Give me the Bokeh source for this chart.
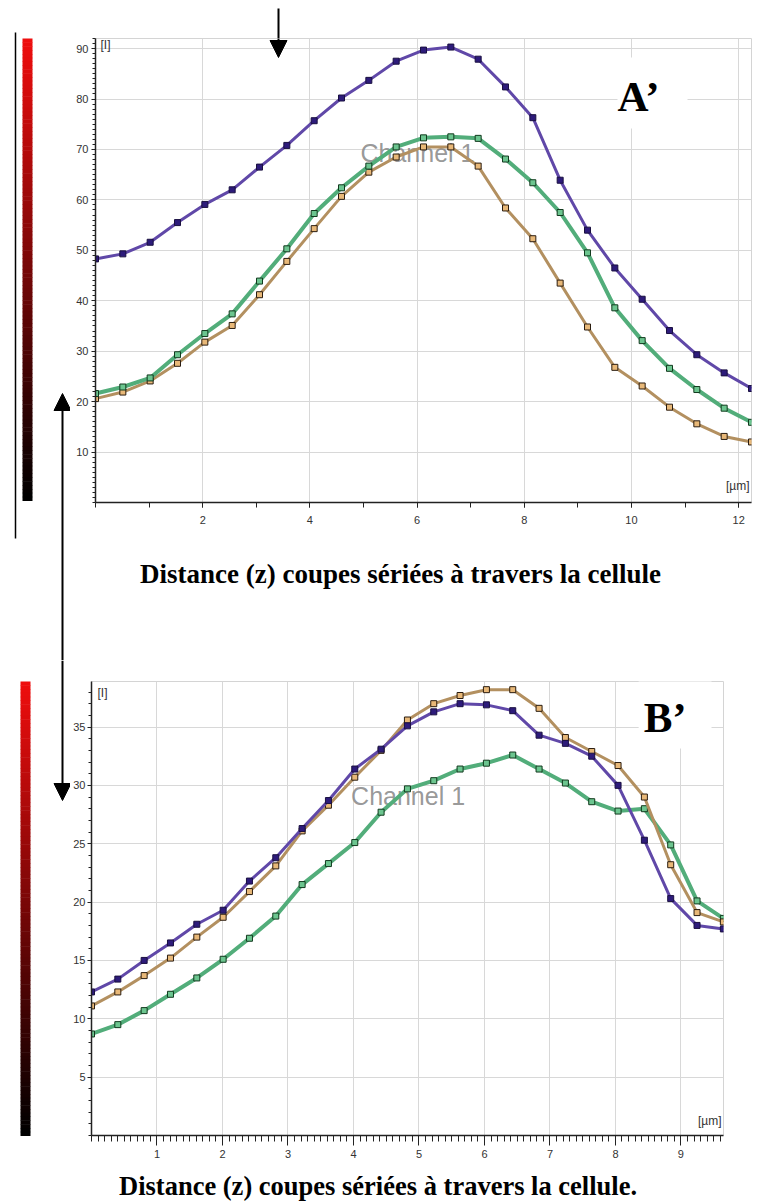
from bokeh.plotting import figure
from bokeh.layouts import column, row
from bokeh.models import Range1d, FixedTicker, Label, Arrow, NormalHead, BoxAnnotation
from bokeh.embed import file_html
from bokeh.resources import INLINE

# ---------------- data (A') ----------------
z_top = [0.00, 0.51, 1.02, 1.53, 2.04, 2.55, 3.06, 3.57, 4.08, 4.59, 5.10, 5.61, 6.12,
         6.63, 7.14, 7.65, 8.16, 8.67, 9.18, 9.69, 10.20, 10.71, 11.22, 11.73, 12.24]
top_purple = [48.3, 49.3, 51.6, 55.5, 59.1, 62.0, 66.5, 70.8, 75.7, 80.2, 83.7, 87.5, 89.7,
              90.3, 87.9, 82.4, 76.3, 63.9, 54.0, 46.5, 40.3, 34.1, 29.3, 25.7, 22.6]
top_green = [21.6, 22.9, 24.7, 29.3, 33.5, 37.4, 43.9, 50.3, 57.3, 62.4, 66.7, 70.5, 72.3,
             72.5, 72.2, 68.1, 63.4, 57.5, 49.5, 38.6, 32.1, 26.6, 22.4, 18.7, 15.9]
top_brown = [20.6, 21.9, 24.1, 27.6, 31.8, 35.1, 41.2, 47.8, 54.3, 60.7, 65.5, 68.5, 70.5,
             70.5, 66.7, 58.4, 52.3, 43.5, 34.8, 26.8, 23.1, 18.9, 15.6, 13.1, 12.0]
top_xticks = [2, 4, 6, 8, 10, 12]
top_yticks = [10, 20, 30, 40, 50, 60, 70, 80, 90]

# ---------------- data (B') ----------------
z_bot = [0.000, 0.402, 0.804, 1.206, 1.608, 2.010, 2.412, 2.814, 3.216, 3.618, 4.020, 4.422,
         4.824, 5.226, 5.628, 6.030, 6.432, 6.834, 7.236, 7.638, 8.040, 8.442, 8.844, 9.246, 9.648]
bot_purple = [12.3, 13.4, 15.0, 16.5, 18.1, 19.3, 21.8, 23.8, 26.3, 28.7, 31.4, 33.1, 35.1,
              36.3, 37.0, 36.9, 36.4, 34.3, 33.6, 32.5, 30.0, 25.3, 20.3, 18.0, 17.7]
bot_brown = [11.1, 12.3, 13.7, 15.2, 17.0, 18.7, 20.9, 23.1, 26.1, 28.3, 30.7, 33.0, 35.6,
             37.0, 37.7, 38.2, 38.2, 36.6, 34.1, 32.9, 31.7, 29.0, 23.2, 19.1, 18.3]
bot_green = [8.7, 9.5, 10.7, 12.1, 13.5, 15.1, 16.9, 18.8, 21.5, 23.3, 25.1, 27.7, 29.7,
             30.4, 31.4, 31.9, 32.6, 31.4, 30.2, 28.6, 27.8, 28.0, 24.9, 20.1, 18.6]
bot_xticks = [1, 2, 3, 4, 5, 6, 7, 8, 9]
bot_yticks = [5, 10, 15, 20, 25, 30, 35]

caption_top = "Distance (z) coupes sériées à travers la cellule"
caption_bot = "Distance (z) coupes sériées à travers la cellule."

PURPLE = dict(line="#6048a8", mfill="#2d1b7a", mline="#1a1040")
GREEN = dict(line="#52ad7a", mfill="#6cc58f", mline="#123a1e")
BROWN = dict(line="#b39060", mfill="#e8b878", mline="#2b1d10")

SANS = "Liberation Sans"
SERIF = "Liberation Serif"


def base_fig(W, H, L, R, T, B, xr, yr, axes=True):
    kw = {}
    if not axes:
        kw = dict(x_axis_location=None, y_axis_location=None)
    p = figure(width=W, height=H, x_range=Range1d(*xr), y_range=Range1d(*yr),
               output_backend="svg", toolbar_location=None,
               min_border_left=L, min_border_right=R, min_border_top=T, min_border_bottom=B, **kw)
    p.background_fill_color = "white"
    p.border_fill_color = "white"
    if not axes:
        p.outline_line_color = None
        p.grid.visible = False
    else:
        p.outline_line_color = "#d4d4d4"
    return p


def deco_fig(W, H, L, R, T, B, fx0, fx1, fy0, fy1):
    # frame maps directly to page pixel coordinates (y downwards)
    return base_fig(W, H, L, R, T, B, (fx0, fx1), (fy1, fy0), axes=False)


def chart_conv(fx0, fx1, fy0, fy1, xr, yr):
    def conv(px, py):
        x = xr[0] + (px - fx0) / (fx1 - fx0) * (xr[1] - xr[0])
        y = yr[1] - (py - fy0) / (fy1 - fy0) * (yr[1] - yr[0])
        return x, y
    return conv


def ident(px, py):
    return px, py


def style_axes(p, xt, xminor, yt, yminor, x_minor_out, x_major_out, x_standoff, y_standoff):
    p.xaxis.ticker = FixedTicker(ticks=xt, minor_ticks=xminor)
    p.yaxis.ticker = FixedTicker(ticks=yt, minor_ticks=yminor)
    for ax in (p.xaxis, p.yaxis):
        ax.axis_line_color = "#222222"
        ax.axis_line_width = 1.5
        ax.major_tick_line_color = "#222222"
        ax.minor_tick_line_color = "#222222"
        ax.major_label_text_font = SANS
        ax.major_label_text_font_size = "11px"
        ax.major_label_text_color = "#333333"
        ax.major_tick_in = 0
        ax.minor_tick_in = 0
    p.yaxis.major_tick_out = 4
    p.yaxis.minor_tick_out = 3
    p.yaxis.major_label_standoff = y_standoff
    p.xaxis.major_tick_out = x_major_out
    p.xaxis.minor_tick_out = x_minor_out
    p.xaxis.major_label_standoff = x_standoff
    p.xgrid.ticker = FixedTicker(ticks=xt)
    p.ygrid.ticker = FixedTicker(ticks=yt)
    p.grid.grid_line_color = "#d8d8d8"
    p.grid.grid_line_width = 1


def draw_series(p, x, y, c, lw=3):
    p.line(x, y, line_color=c["line"], line_width=lw)
    p.scatter(x, y, marker="square", size=6, fill_color=c["mfill"], line_color=c["mline"], line_width=1)


def colorbar(p, x0, x1, y0, y1, n=120):
    h = (y1 - y0) / n
    lefts, rights, tops, bots, cols = [], [], [], [], []
    for i in range(n):
        t = i / (n - 1)
        r = int(238 * (1 - t))
        g = int(14 * (1 - t))
        cols.append("#%02x%02x%02x" % (r, g, g))
        lefts.append(x0)
        rights.append(x1)
        tops.append(y0 + i * h)
        bots.append(y0 + (i + 1) * h + 0.5)
    p.quad(left=lefts, right=rights, top=tops, bottom=bots, fill_color=cols, line_color=None)


def arrow(p, conv, x, ya, yb, head=True, lw=2):
    xs, ys = conv(x, ya)
    xe, ye = conv(x, yb)
    p.add_layout(Arrow(x_start=xs, y_start=ys, x_end=xe, y_end=ye, line_width=lw, line_color="black",
                       end=NormalHead(size=17, fill_color="black", line_color="black") if head else None,
                       level="overlay"))


def label(p, conv, px, py, text, font, size, color="black", style="normal", align="left",
          baseline="alphabetic", level="overlay", alpha=1.0):
    # empirical correction: rendered text sits ~0.32em below the requested position
    x, y = conv(px, py - 0.32 * size)
    p.add_layout(Label(x=x, y=y, text=text, text_font=font, text_font_size="%gpx" % size,
                       text_color=color, text_font_style=style, text_align=align,
                       text_baseline=baseline, level=level, text_alpha=alpha))


def white_box(p, conv, x0, x1, y0, y1):
    a, top = conv(x0, y0)
    b, bot = conv(x1, y1)
    p.add_layout(BoxAnnotation(left=a, right=b, top=top, bottom=bot, fill_color="white",
                               fill_alpha=1, line_color=None, level="overlay"))


# ================= upper block (page y 0..660) =================
strip_top = deco_fig(70, 660, 0, 0, 0, 0, 0, 70, 0, 660)
colorbar(strip_top, 22, 32, 38, 500)
arrow(strip_top, ident, 15, 32, 538, head=False, lw=1.5)
arrow(strip_top, ident, 62, 660, 393)

fig_arrow = deco_fig(688, 38, 25, 7, 0, 0, 95, 751, 0, 38)
arrow(fig_arrow, ident, 278, 8, 38, head=False)

XR1, YR1 = (0, 12.24), (0, 92)
fig_top = base_fig(688, 502, 25, 7, 0, 38, XR1, YR1)
c1 = chart_conv(95, 751, 38, 502, XR1, YR1)
style_axes(fig_top, top_xticks, list(range(0, 13)), top_yticks, list(range(0, 93)), 5, 5, 8, 3)
label(fig_top, c1, 360, 160, "Channel 1", SANS, 25, color="#8c8c8c", level="underlay", alpha=0.9)
draw_series(fig_top, z_top, top_brown, BROWN)
draw_series(fig_top, z_top, top_green, GREEN, lw=4)
draw_series(fig_top, z_top, top_purple, PURPLE)
label(fig_top, c1, 100, 41, "[I]", SANS, 12, color="#333333", baseline="top")
label(fig_top, c1, 749, 489, "[µm]", SANS, 12, color="#333333", align="right")
white_box(fig_top, c1, 617, 687, 57, 128)
label(fig_top, c1, 617, 110, "A’", SERIF, 43, style="bold")
arrow(fig_top, c1, 278, 37, 57)

fig_cap1 = deco_fig(688, 120, 25, 7, 0, 0, 95, 751, 540, 660)
label(fig_cap1, ident, 400, 582, caption_top, SERIF, 27, style="bold", align="center")

upper = row(strip_top, column(fig_arrow, fig_top, fig_cap1, spacing=0), spacing=0)

# ================= lower block (page y 660..1202) =================
strip_bot = deco_fig(70, 542, 0, 0, 0, 0, 0, 70, 660, 1202)
colorbar(strip_bot, 20, 30, 681, 1135)
arrow(strip_bot, ident, 62, 660, 800)

XR2, YR2 = (0, 9.65), (0, 38.9)
fig_bot = base_fig(688, 508, 20, 35, 21, 33, XR2, YR2)
c2 = chart_conv(90, 723, 681, 1135, XR2, YR2)
style_axes(fig_bot, bot_xticks, [round(0.1 * i, 1) for i in range(0, 97)], bot_yticks,
           list(range(0, 39)), 6, 10, 4, 2)
label(fig_bot, c2, 350, 803, "Channel 1", SANS, 25, color="#8c8c8c", level="underlay", alpha=0.9)
draw_series(fig_bot, z_bot, bot_green, GREEN, lw=4)
draw_series(fig_bot, z_bot, bot_brown, BROWN)
draw_series(fig_bot, z_bot, bot_purple, PURPLE)
label(fig_bot, c2, 96, 689, "[I]", SANS, 12, color="#333333", baseline="top")
label(fig_bot, c2, 721, 1124, "[µm]", SANS, 12, color="#333333", align="right")
white_box(fig_bot, c2, 638, 711, 675, 748)
label(fig_bot, c2, 643, 731, "B’", SERIF, 43, style="bold")

fig_cap2 = deco_fig(688, 34, 20, 35, 0, 0, 90, 723, 1168, 1202)
label(fig_cap2, ident, 377, 1194, caption_bot, SERIF, 26.5, style="bold", align="center")

lower = row(strip_bot, column(fig_bot, fig_cap2, spacing=0), spacing=0)

layout = column(upper, lower, spacing=0)
open("out.html", "w").write(file_html(layout, INLINE))
